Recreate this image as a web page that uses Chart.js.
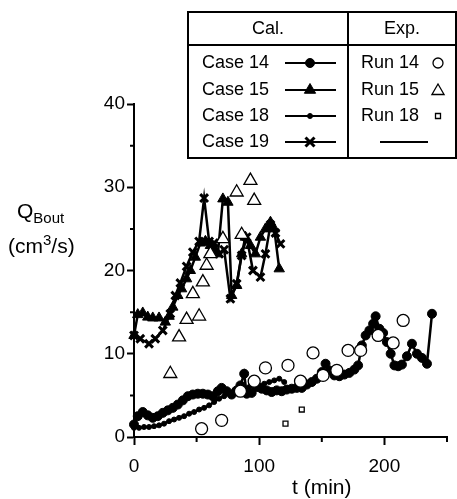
<!DOCTYPE html>
<html>
<head>
<meta charset="utf-8">
<script src="https://cdn.jsdelivr.net/npm/chart.js@4.4.1/dist/chart.umd.min.js"></script>
<style>
  html, body { margin: 0; padding: 0; background: #fff; }
  #wrap { position: relative; width: 457px; height: 499px; font-family: "Liberation Sans", Arial, sans-serif; color: #000; }
  .lbl { position: absolute; white-space: nowrap; line-height: 1; }
  .lbl sub, .lbl sup { font-size: 15px; }
</style>
</head>
<body>
<div id="wrap">
  <canvas id="chart" width="457" height="499"></canvas>
  <div class="lbl" style="left:17px; top:200px; font-size:21px;">Q<sub>Bout</sub></div>
  <div class="lbl" style="left:8px; top:232px; font-size:21px;">(cm<sup>3</sup>/s)</div>
  <div class="lbl" style="left:292px; top:476px; font-size:21px;">t (min)</div>
</div>
<script>
// calculated curves [t (min), Q (cm3/s)]
const case14 = [[0,1.5],[3,2.5],[7,3.0],[11,2.6],[15,2.3],[19,2.5],[23,2.9],[27,3.2],[31,3.5],[35,3.9],[39,4.4],[43,4.9],[47,5.1],[51,5.2],[55,5.2],[59,5.1],[63,4.9],[67,5.5],[70,5.9],[74,5.5],[78,5.1],[82,5.6],[85,6.2],[88,7.6],[90,5.2],[94,5.3],[98,6.0],[102,5.8],[106,5.6],[110,5.4],[114,5.6],[118,5.5],[122,5.7],[126,5.8],[130,5.9],[134,5.9],[138,6.3],[142,6.6],[146,7.0],[150,7.8],[153,8.8],[156,8.0],[160,7.4],[164,7.3],[168,7.5],[172,7.7],[176,8.1],[179,8.6],[182,11.0],[185,12.2],[188,12.8],[191,13.6],[193,14.5],[196,13.0],[199,12.5],[202,11.4],[205,10.0],[208,8.6],[211,8.5],[214,8.7],[218,9.7],[222,11.2],[226,10.0],[230,9.5],[234,8.8],[238,14.8]];
const case15 = [[0,12.2],[3,14.7],[7,14.9],[11,14.4],[15,14.3],[20,14.3],[25,13.8],[28,14.5],[31,15.6],[35,17.0],[38,17.8],[42,19.0],[45,20.0],[49,21.6],[53,23.3],[57,23.5],[61,23.0],[64,22.5],[67,22.0],[71,28.6],[75,28.2],[78,17.0],[82,18.2],[86,22.0],[89,24.0],[93,23.0],[97,22.0],[101,24.0],[105,25.0],[109,25.8],[112,25.0],[116,20.2]];
const case18 = [[0,1.1],[4,1.1],[8,1.2],[12,1.2],[16,1.3],[20,1.4],[24,1.6],[28,1.9],[32,2.1],[36,2.3],[40,2.5],[44,2.8],[48,3.0],[52,3.3],[56,3.5],[60,3.8],[64,4.2],[68,4.6],[72,4.9],[76,5.2],[80,5.6],[84,5.4],[88,5.8],[92,6.0],[96,6.3],[100,6.2],[104,6.4],[108,6.6],[112,6.8],[116,7.0],[120,6.6]];
const case19 = [[0,12.2],[5,11.8],[12,11.2],[17,11.8],[23,12.8],[29,14.8],[33,17.0],[37,18.5],[42,20.5],[47,22.2],[52,23.5],[56,28.7],[60,23.5],[64,23.3],[68,22.0],[72,22.5],[77,16.6],[82,18.4],[86,21.8],[90,24.0],[95,20.0],[101,19.2],[105,22.0],[109,25.5],[113,24.5],[117,23.2]];
// experimental points
const run14 = [[54,1.0],[70,2.0],[85,5.5],[96,6.7],[105,8.3],[123,8.6],[133,6.7],[143,10.1],[151,7.4],[162,8.0],[171,10.4],[181,10.4],[195,12.2],[207,11.3],[215,14.0]];
const run15 = [[29,7.6],[36,12.0],[42,14.1],[47,17.2],[52,14.5],[55,18.6],[58,20.6],[61,22.0],[71,23.8],[82,29.4],[86,24.3],[93,30.8],[96,28.4]];
const run18 = [[121,1.6],[134,3.3]];

const xMinor = [50, 150, 250];
const yMinor = [5, 15, 25, 35];

const toXY = (a) => a.map(([x, y]) => ({ x, y }));

const caseSet = (data, style, radius, extra = {}) => ({
  data: toXY(data),
  showLine: true,
  borderColor: "#000",
  backgroundColor: "#000",
  borderWidth: 2.5,
  pointStyle: style,
  pointRadius: radius,
  pointBorderWidth: 1,
  tension: 0,
  clip: false,
  order: 2,
  ...extra,
});
const runSet = (data, style, radius) => ({
  data: toXY(data),
  showLine: false,
  borderColor: "#000",
  backgroundColor: "#fff",
  pointStyle: style,
  pointRadius: radius,
  pointBorderWidth: 1.3,
  clip: false,
  order: 0,
});

// simple marker drawing for the table legend
const mark = (ctx, style, x, y, r, fill) => {
  ctx.beginPath();
  if (style === "circle") {
    ctx.arc(x, y, r, 0, Math.PI * 2);
  } else if (style === "triangle") {
    ctx.moveTo(x, y - r);
    ctx.lineTo(x + r * 0.866, y + r * 0.5);
    ctx.lineTo(x - r * 0.866, y + r * 0.5);
    ctx.closePath();
  } else if (style === "rect") {
    ctx.rect(x - r, y - r, 2 * r, 2 * r);
  } else if (style === "crossRot") {
    ctx.moveTo(x - r, y - r); ctx.lineTo(x + r, y + r);
    ctx.moveTo(x + r, y - r); ctx.lineTo(x - r, y + r);
  }
  if (fill) { ctx.fillStyle = fill; if (style !== "crossRot") ctx.fill(); }
  ctx.stroke();
};

const extras = {
  id: "extras",
  afterDraw(chart) {
    const ctx = chart.ctx;
    const xs = chart.scales.x, ys = chart.scales.y;
    const area = chart.chartArea;
    ctx.save();
    ctx.strokeStyle = "#000";
    ctx.lineWidth = 2;
    ctx.beginPath();
    xMinor.forEach((v) => {
      const px = xs.getPixelForValue(v);
      ctx.moveTo(px, area.bottom); ctx.lineTo(px, area.bottom + 5);
    });
    yMinor.forEach((v) => {
      const py = ys.getPixelForValue(v);
      ctx.moveTo(area.left, py); ctx.lineTo(area.left - 4, py);
    });
    ctx.stroke();

    // table legend
    ctx.fillStyle = "#fff";
    ctx.fillRect(188, 12, 268, 146);
    ctx.lineWidth = 2;
    ctx.strokeRect(188, 12, 268, 146);
    ctx.beginPath();
    ctx.moveTo(348, 12); ctx.lineTo(348, 158);
    ctx.moveTo(188, 45); ctx.lineTo(456, 45);
    ctx.stroke();
    ctx.fillStyle = "#000";
    ctx.font = "18px 'Liberation Sans', Arial, sans-serif";
    ctx.textBaseline = "middle";
    ctx.textAlign = "center";
    ctx.fillText("Cal.", 268, 29);
    ctx.fillText("Exp.", 402, 29);
    ctx.textAlign = "left";
    const rows = [63, 90, 116, 142];
    const cal = [["Case 14", "circle", 4.5], ["Case 15", "triangle", 6.5], ["Case 18", "circle", 2.5], ["Case 19", "crossRot", 4.5]];
    cal.forEach(([name, st, r], i) => {
      const y = rows[i];
      ctx.fillText(name, 202, y);
      ctx.lineWidth = 2;
      ctx.beginPath(); ctx.moveTo(285, y); ctx.lineTo(336, y); ctx.stroke();
      ctx.lineWidth = st === "crossRot" ? 3 : 1;
      mark(ctx, st, 310, y, r, "#000");
    });
    const exp = [["Run 14", "circle", 5], ["Run 15", "triangle", 7], ["Run 18", "rect", 2.5]];
    exp.forEach(([name, st, r], i) => {
      const y = rows[i];
      ctx.fillStyle = "#000";
      ctx.fillText(name, 361, y);
      ctx.lineWidth = 1.3;
      mark(ctx, st, 438, y + (st === "triangle" ? 1 : 0), r, "#fff");
    });
    ctx.lineWidth = 2;
    ctx.beginPath(); ctx.moveTo(380, rows[3]); ctx.lineTo(428, rows[3]); ctx.stroke();
    ctx.restore();
  },
};

new Chart(document.getElementById("chart"), {
  type: "scatter",
  data: {
    datasets: [
      runSet(run14, "circle", 6),
      runSet(run15, "triangle", 7.5),
      runSet(run18, "rect", 3.5),
      caseSet(case15, "triangle", 6),
      caseSet(case19, "crossRot", 5.5, { pointBorderWidth: 3 }),
      caseSet(case14, "circle", 4.5),
      caseSet(case18, "circle", 2.5),
    ],
  },
  options: {
    responsive: false,
    animation: false,
    layout: { padding: { top: 104, right: 9, left: 0, bottom: 0 } },
    plugins: { legend: { display: false }, tooltip: { enabled: false } },
    scales: {
      x: {
        type: "linear",
        min: 0,
        max: 250,
        afterFit: (s) => { s.height = 62; },
        border: { display: true, color: "#000", width: 2 },
        grid: {
          drawOnChartArea: false,
          tickLength: 8,
          tickWidth: 2,
          tickColor: (c) => (c.tick && c.tick.value % 100 === 0 ? "#000" : "rgba(0,0,0,0)"),
        },
        ticks: {
          stepSize: 50,
          padding: 10,
          color: "#000",
          font: { family: "'Liberation Sans', Arial, sans-serif", size: 19 },
          callback: (v) => (v % 100 === 0 ? v : ""),
        },
      },
      y: {
        type: "linear",
        min: 0,
        max: 40,
        afterFit: (s) => { s.width = 134; },
        border: { display: true, color: "#000", width: 2 },
        grid: {
          drawOnChartArea: false,
          tickLength: 7,
          tickWidth: 2,
          tickColor: (c) => (c.tick && c.tick.value % 10 === 0 ? "#000" : "rgba(0,0,0,0)"),
        },
        ticks: {
          stepSize: 5,
          padding: 2,
          color: "#000",
          font: { family: "'Liberation Sans', Arial, sans-serif", size: 19 },
          callback: (v) => (v % 10 === 0 ? v : ""),
        },
      },
    },
  },
  plugins: [extras],
});
</script>
</body>
</html>
